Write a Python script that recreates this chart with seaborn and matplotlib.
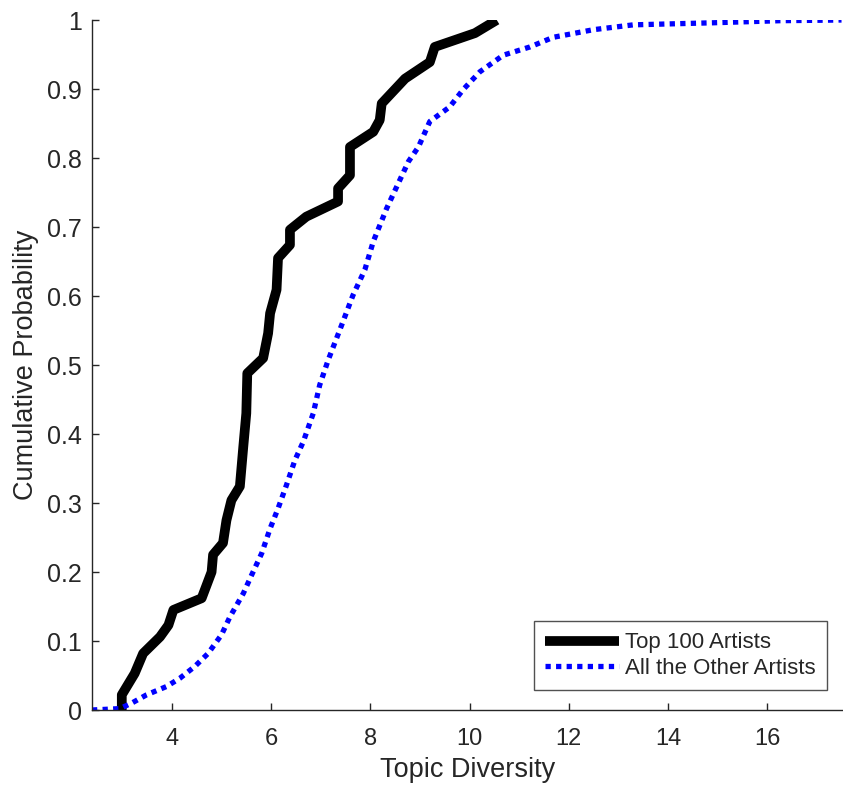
import matplotlib
matplotlib.use("Agg")
import matplotlib.pyplot as plt
import seaborn as sns
import pandas as pd

top_x = [2.99, 2.99, 3.25, 3.42, 3.76, 3.93, 4.03, 4.60, 4.80, 4.83, 5.03, 5.10, 5.20, 5.37,
         5.44, 5.50, 5.52, 5.84, 5.94, 5.98, 6.11, 6.14, 6.38, 6.38, 6.71, 7.35, 7.35, 7.59,
         7.59, 8.06, 8.19, 8.23, 8.70, 9.20, 9.30, 10.11, 10.55]
top_y = [0.0, 0.022, 0.053, 0.082, 0.106, 0.123, 0.145, 0.162, 0.200, 0.225, 0.242, 0.275,
         0.304, 0.324, 0.382, 0.430, 0.488, 0.510, 0.546, 0.575, 0.609, 0.655, 0.674, 0.696,
         0.715, 0.737, 0.756, 0.775, 0.816, 0.838, 0.855, 0.879, 0.915, 0.939, 0.961, 0.981, 1.0]

other_x = [2.39, 2.95, 3.19, 3.49, 3.89, 4.16, 4.46, 4.73, 5.00, 5.17, 5.44, 5.61, 5.81, 5.98,
           6.14, 6.31, 6.48, 6.65, 6.85, 6.98, 7.15, 7.45, 7.65, 7.89, 8.06, 8.33, 8.53, 8.77,
           8.97, 9.20, 9.60, 9.87, 10.21, 10.68, 11.22, 11.69, 12.50, 13.30, 14.92, 16.26, 17.50]
other_y = [0.0, 0.002, 0.010, 0.022, 0.034, 0.046, 0.063, 0.082, 0.109, 0.135, 0.169, 0.196,
           0.227, 0.263, 0.292, 0.326, 0.362, 0.389, 0.430, 0.471, 0.507, 0.563, 0.601, 0.638,
           0.679, 0.727, 0.758, 0.795, 0.816, 0.853, 0.874, 0.899, 0.925, 0.949, 0.961, 0.975,
           0.986, 0.993, 0.996, 0.999, 1.0]

series_names = ["Top 100 Artists", "All the Other Artists"]
x_ticks = [4, 6, 8, 10, 12, 14, 16]
y_ticks = [0, 0.1, 0.2, 0.3, 0.4, 0.5, 0.6, 0.7, 0.8, 0.9, 1]
y_tick_labels = ["0", "0.1", "0.2", "0.3", "0.4", "0.5", "0.6", "0.7", "0.8", "0.9", "1"]

sns.set_style("white")
plt.rcParams["font.family"] = ["Liberation Sans", "DejaVu Sans"]

fig = plt.figure(figsize=(8.43, 7.91), dpi=100)
ax = fig.add_axes([0.109, 0.1024, 0.891, 0.8723])

df_top = pd.DataFrame({"x": top_x, "y": top_y})
df_oth = pd.DataFrame({"x": other_x, "y": other_y})

sns.lineplot(data=df_top, x="x", y="y", ax=ax, sort=False, estimator=None,
             color="black", linewidth=7, label=series_names[0], solid_capstyle="butt")
sns.lineplot(data=df_oth, x="x", y="y", ax=ax, sort=False, estimator=None,
             color="#0000ff", linewidth=3.8, label=series_names[1],
             linestyle=(0, (1, 1)), dash_capstyle="butt")

ax.set_xlim(2.387, 17.53)
ax.set_ylim(0, 1)
ax.set_xticks(x_ticks)
ax.set_xticklabels([str(t) for t in x_ticks])
ax.set_yticks(y_ticks)
ax.set_yticklabels(y_tick_labels)

for s in ["top", "right"]:
    ax.spines[s].set_visible(False)
for s in ["left", "bottom"]:
    ax.spines[s].set_color("#262626")
    ax.spines[s].set_linewidth(1.0)

ax.tick_params(axis="both", direction="in", length=5, width=1, colors="#262626",
               left=True, bottom=True)
ax.tick_params(axis="x", labelsize=17, pad=13)
ax.tick_params(axis="y", labelsize=18, pad=7)
ax.set_xlabel("Topic Diversity", fontsize=19.5, color="#262626", labelpad=5)
ax.set_ylabel("Cumulative Probability", fontsize=19.5, color="#262626", labelpad=6)

leg = ax.legend(loc="lower right", bbox_to_anchor=(0.9787, 0.029), fontsize=16,
                frameon=True, fancybox=False, handlelength=3.3, handletextpad=0.3,
                borderpad=0.5, labelspacing=0.2, borderaxespad=0)
leg.get_frame().set_edgecolor("#262626")
leg.get_frame().set_linewidth(1.0)

fig.savefig("out.png", dpi=100)
